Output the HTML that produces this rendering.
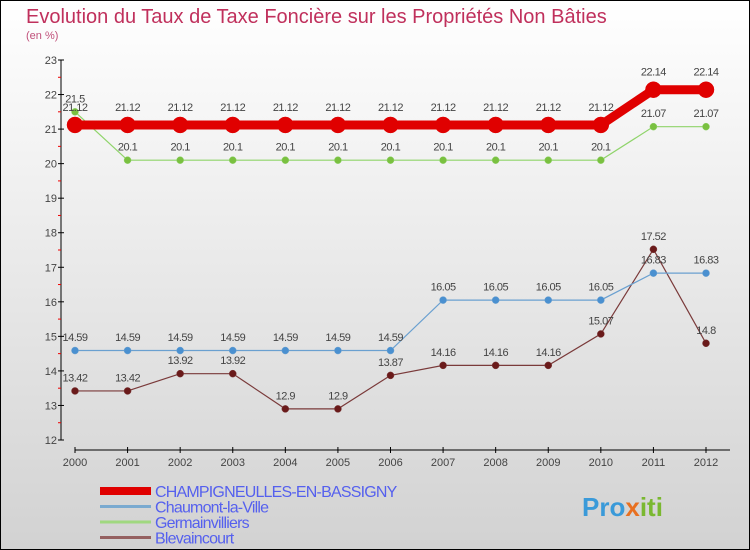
<!DOCTYPE html>
<html><head><meta charset="utf-8"><style>
body{margin:0;width:750px;height:550px;overflow:hidden}
svg{display:block;font-family:"Liberation Sans",sans-serif}
</style></head><body>
<svg id="c" width="750" height="550">
<defs><linearGradient id="bg" x1="0" y1="0" x2="0" y2="1"><stop offset="0" stop-color="#ffffff"/><stop offset="1" stop-color="#d2d2d2"/></linearGradient></defs>
<rect x="0.5" y="0.5" width="749" height="549" fill="url(#bg)" stroke="#000"/>
<text x="26" y="23" font-size="20" fill="#c0305c">Evolution du Taux de Taxe Foncière sur les Propriétés Non Bâties</text>
<text x="26" y="39" font-size="11" fill="#c0507a">(en %)</text>
<g id="axes"></g><g id="series"></g><g id="legend"></g>
<text x="582" y="516" font-size="26" font-weight="bold" fill="#3a9ad9">Pro<tspan fill="#e87020">x</tspan><tspan fill="#7ab830">iti</tspan></text>
</svg>
<script>
const years=[2000,2001,2002,2003,2004,2005,2006,2007,2008,2009,2010,2011,2012];
const yTicks=[12,13,14,15,16,17,18,19,20,21,22,23];
const champ=[21.12,21.12,21.12,21.12,21.12,21.12,21.12,21.12,21.12,21.12,21.12,22.14,22.14];
const chaumont=[14.59,14.59,14.59,14.59,14.59,14.59,14.59,16.05,16.05,16.05,16.05,16.83,16.83];
const germ=[21.5,20.1,20.1,20.1,20.1,20.1,20.1,20.1,20.1,20.1,20.1,21.07,21.07];
const blev=[13.42,13.42,13.92,13.92,12.9,12.9,13.87,14.16,14.16,14.16,15.07,17.52,14.8];
const names=["CHAMPIGNEULLES-EN-BASSIGNY","Chaumont-la-Ville","Germainvilliers","Blevaincourt"];
const NS="http://www.w3.org/2000/svg";
const X=i=>75+i*(706-75)/(years.length-1);
const Y=v=>440-(v-12)*(380/11);
function mk(tag,attrs,parent,text){const e=document.createElementNS(NS,tag);for(const k in attrs)e.setAttribute(k,attrs[k]);if(text!==undefined)e.textContent=text;parent.appendChild(e);return e;}
const ax=document.getElementById('axes');
let e=mk('line',{x1:61,y1:60,x2:61,y2:440,stroke:'#000'},ax);


yTicks.forEach((t,i)=>{
 mk('line',{x1:58,x2:64,y1:Y(t),y2:Y(t),stroke:'#000'},ax);
 if(i<yTicks.length-1)mk('line',{x1:58,x2:61,y1:Y(t+0.5),y2:Y(t+0.5),stroke:'#e00'},ax);
 e=mk('text',{x:57,y:Y(t)+4,'font-size':11,fill:'#444','text-anchor':'end'},ax,t);
 
 
});
e=mk('line',{x1:75,y1:450,x2:730,y2:450,stroke:'#000'},ax);


years.forEach((y,i)=>{
 mk('line',{x1:X(i),x2:X(i),y1:447,y2:453,stroke:'#000'},ax);
 e=mk('text',{x:X(i),y:466,'font-size':11,fill:'#444','text-anchor':'middle'},ax,y);
 
 
});
const sg=document.getElementById('series');
function series(vals,color,w,r,name,fill){
 const g=mk('g',{},sg);
 
 
 mk('polyline',{points:vals.map((v,i)=>X(i)+','+Y(v)).join(' '),fill:'none',stroke:color,'stroke-width':w},g);
 vals.forEach((v,i)=>{
  const c=mk('circle',{cx:X(i),cy:Y(v),r:r,fill:fill,stroke:color,'stroke-width':0.5},g);
  
  
  const t=mk('text',{x:X(i),y:Y(v)-r-6,'font-size':11,fill:'#444','text-anchor':'middle','letter-spacing':'-0.5'},g,v);
  
  
 });
}
series(blev,'#7a3a3a',1.2,3.5,'series-blevaincourt','#6a1a1a');
series(germ,'#8fd46a',1.2,3.5,'series-germainvilliers','#7ac040');
series(chaumont,'#6aa0d0',1.2,3.5,'series-chaumont','#4a90d0');
series(champ,'#e00000',9,8,'series-champigneulles','#e00000');
const lg=document.getElementById('legend');
const lc=['#e00000','#7aaad0','#a0d880','#946060'],lw=[8,3,3,3];
names.forEach((n,i)=>{
 const y=491+i*15.5;
 const g=mk('g',{},lg);
 
 
 mk('line',{x1:100,x2:151,y1:y,y2:y,stroke:lc[i],'stroke-width':lw[i]},g);
 mk('text',{x:155,y:y+6,'font-size':16,fill:'#5560ee','letter-spacing':'-0.8'},g,n);
});
</script>
</body></html>
